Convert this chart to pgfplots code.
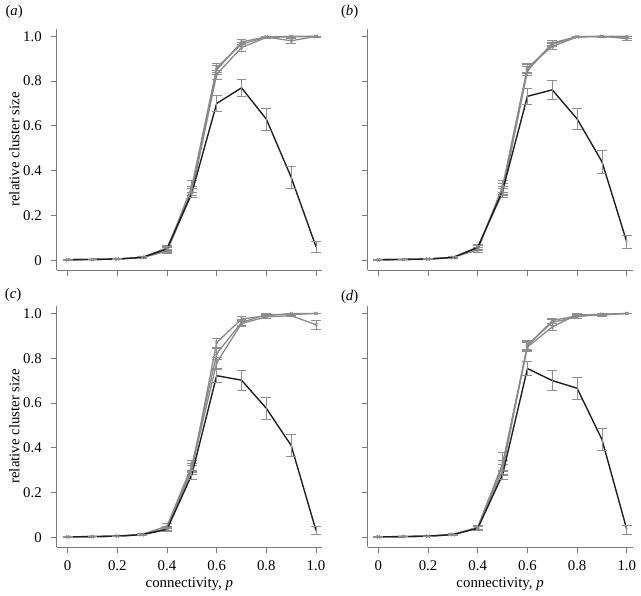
\documentclass[border=0pt]{standalone}
\usepackage{fontspec}
\setmainfont{Liberation Serif}
\usepackage{pgfplots}
\pgfplotsset{compat=1.18}
\usepgfplotslibrary{groupplots}
\definecolor{lnblack}{HTML}{1E1E1E}
\definecolor{lngray}{HTML}{8A8A8A}
\definecolor{errgray}{HTML}{8F8F8F}
\definecolor{axgray}{HTML}{7A7A7A}

% x, three grey series (value, error), black series (value, error)
\pgfplotstableread{
x   g1    e1    g2    e2    g3    e3    b     be
0   0.002 0.001 0.002 0.001 0.002 0.001 0.002 0.001
0.1 0.003 0.001 0.003 0.001 0.003 0.001 0.003 0.001
0.2 0.005 0.001 0.005 0.001 0.005 0.001 0.005 0.001
0.3 0.012 0.003 0.013 0.003 0.011 0.003 0.012 0.003
0.4 0.055 0.010 0.045 0.010 0.040 0.008 0.050 0.010
0.5 0.310 0.020 0.330 0.025 0.300 0.020 0.300 0.020
0.6 0.850 0.020 0.860 0.020 0.830 0.020 0.700 0.037
0.7 0.975 0.010 0.965 0.010 0.950 0.015 0.770 0.040
0.8 0.998 0.002 0.997 0.002 0.995 0.003 0.630 0.050
0.9 1.000 0.002 0.980 0.010 0.998 0.002 0.370 0.050
1.0 1.000 0.001 1.000 0.001 0.999 0.002 0.060 0.025
}\dataA
\pgfplotstableread{
x   g1    e1    g2    e2    g3    e3    b     be
0   0.002 0.001 0.002 0.001 0.002 0.001 0.002 0.001
0.1 0.003 0.001 0.003 0.001 0.003 0.001 0.003 0.001
0.2 0.005 0.001 0.005 0.001 0.005 0.001 0.005 0.001
0.3 0.012 0.003 0.013 0.003 0.011 0.003 0.012 0.003
0.4 0.055 0.010 0.045 0.010 0.060 0.010 0.056 0.010
0.5 0.320 0.025 0.330 0.025 0.300 0.020 0.310 0.020
0.6 0.855 0.020 0.860 0.020 0.845 0.020 0.732 0.035
0.7 0.965 0.010 0.955 0.012 0.970 0.010 0.761 0.042
0.8 0.998 0.002 0.997 0.002 0.999 0.002 0.631 0.048
0.9 1.000 0.002 0.999 0.002 1.000 0.002 0.440 0.050
1.0 1.000 0.002 0.995 0.005 0.990 0.008 0.081 0.028
}\dataB
\pgfplotstableread{
x   g1    e1    g2    e2    g3    e3    b     be
0   0.002 0.001 0.002 0.001 0.002 0.001 0.002 0.001
0.1 0.003 0.001 0.003 0.001 0.003 0.001 0.003 0.001
0.2 0.005 0.001 0.005 0.001 0.005 0.001 0.005 0.001
0.3 0.012 0.003 0.013 0.003 0.011 0.003 0.012 0.003
0.4 0.040 0.010 0.050 0.010 0.035 0.008 0.035 0.008
0.5 0.300 0.020 0.320 0.025 0.310 0.020 0.280 0.020
0.6 0.870 0.020 0.820 0.025 0.780 0.025 0.722 0.030
0.7 0.975 0.010 0.960 0.012 0.955 0.012 0.702 0.045
0.8 0.990 0.005 0.995 0.004 0.985 0.006 0.576 0.050
0.9 1.000 0.002 0.995 0.004 0.990 0.005 0.410 0.050
1.0 1.000 0.001 1.000 0.001 0.950 0.020 0.030 0.017
}\dataC
\pgfplotstableread{
x   g1    e1    g2    e2    g3    e3    b     be
0   0.002 0.001 0.002 0.001 0.002 0.001 0.002 0.001
0.1 0.003 0.001 0.003 0.001 0.003 0.001 0.003 0.001
0.2 0.005 0.001 0.005 0.001 0.005 0.001 0.005 0.001
0.3 0.012 0.003 0.013 0.003 0.011 0.003 0.012 0.003
0.4 0.045 0.008 0.040 0.008 0.045 0.008 0.040 0.008
0.5 0.330 0.050 0.300 0.025 0.320 0.025 0.280 0.020
0.6 0.855 0.020 0.860 0.020 0.850 0.020 0.754 0.032
0.7 0.968 0.010 0.960 0.012 0.940 0.015 0.700 0.045
0.8 0.990 0.005 0.985 0.006 0.995 0.004 0.666 0.048
0.9 0.995 0.004 0.997 0.003 0.993 0.005 0.437 0.050
1.0 1.000 0.001 1.000 0.001 1.000 0.001 0.035 0.020
}\dataD

\pgfplotsset{
  greyline/.style={color=lngray, line width=1.3pt, mark=x, mark size=2.2pt,
    mark options={line width=0.6pt},
    error bars/.cd, y dir=both, y explicit,
    error bar style={color=errgray, line width=0.7pt},
    error mark options={rotate=90, color=errgray, mark size=5pt, line width=0.7pt}},
  blackline/.style={color=lnblack, line width=1.4pt, mark=none,
    error bars/.cd, y dir=both, y explicit,
    error bar style={color=errgray, line width=0.7pt},
    error mark options={rotate=90, color=errgray, mark size=5pt, line width=0.7pt}},
}

\newcommand{\panel}[1]{%
  \addplot+[greyline] table[x=x, y=g1, y error=e1] {#1};
  \addplot+[greyline] table[x=x, y=g2, y error=e2] {#1};
  \addplot+[greyline] table[x=x, y=g3, y error=e3] {#1};
  \addplot+[blackline] table[x=x, y=b, y error=be] {#1};
}

\begin{document}
\fontsize{15}{17}\selectfont
\begin{tikzpicture}
\begin{groupplot}[
  group style={group size=2 by 2, horizontal sep=46pt, vertical sep=36pt,
    xticklabels at=edge bottom, yticklabels at=edge left},
  scale only axis, width=268pt, height=244pt,
  xmin=-0.044, xmax=1.024, ymin=-0.044, ymax=1.035,
  axis x line*=bottom, axis y line*=left,
  axis line style={-, color=axgray, line width=0.8pt},
  tick style={color=axgray, line width=0.8pt},
  tick align=outside, major tick length=6pt,
  xtick={0,0.2,0.4,0.6,0.8,1.0}, ytick={0,0.2,0.4,0.6,0.8,1.0},
  xticklabels={0,0.2,0.4,0.6,0.8,1.0},
  yticklabels={0,0.2,0.4,0.6,0.8,1.0},
  tick label style={font=\fontsize{15}{17}\selectfont},
  label style={font=\fontsize{15}{17}\selectfont},
  yticklabel style={anchor=east, xshift=-4pt},
  xticklabel style={anchor=north, yshift=-2pt},
  ylabel style={at={(axis description cs:0,0.5)}, anchor=center, yshift=43pt},
  xlabel style={at={(axis description cs:0.5,0)}, anchor=center, yshift=-37pt},
  clip=false,
]
\nextgroupplot[ylabel={relative cluster size}]
\panel{\dataA}
\nextgroupplot
\panel{\dataB}
\nextgroupplot[ylabel={relative cluster size}, xlabel={connectivity, \textit{p}}]
\panel{\dataC}
\nextgroupplot[xlabel={connectivity, \textit{p}}]
\panel{\dataD}
\end{groupplot}
\node at ([xshift=-43pt, yshift=17pt]group c1r1.north west) {(\textit{a})};
\node at ([xshift=-18pt, yshift=17pt]group c2r1.north west) {(\textit{b})};
\node at ([xshift=-44pt, yshift=11pt]group c1r2.north west) {(\textit{c})};
\node at ([xshift=-18pt, yshift=9pt]group c2r2.north west) {(\textit{d})};
\end{tikzpicture}
\end{document}
